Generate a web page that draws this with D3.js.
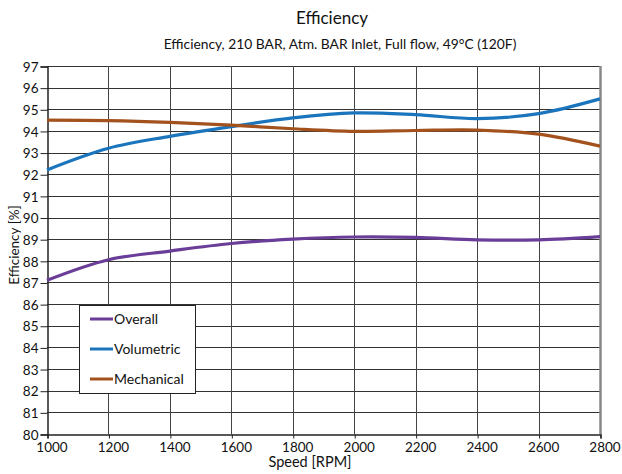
<!DOCTYPE html>
<html><head><meta charset="utf-8">
<script src="https://cdn.jsdelivr.net/npm/d3@7"></script>
<style>body{margin:0;background:#fff}svg{display:block}text{font-family:Lato,"Open Sans",sans-serif;fill:#111}</style>
</head><body>
<script>
const speeds = [1000,1200,1400,1600,1800,2000,2200,2400,2600,2800];
const overall = [87.1,88.05,88.45,88.8,89.0,89.1,89.08,88.97,88.97,89.12];
const volumetric = [92.2,93.2,93.75,94.2,94.6,94.83,94.75,94.57,94.8,95.48];
const mechanical = [94.5,94.48,94.4,94.27,94.1,93.98,94.02,94.04,93.85,93.3];
const seriesNames = ["Overall","Volumetric","Mechanical"];
const seriesColors = ["#6a3d98","#1b75bc","#a3521e"];
const xTicks = [1000,1200,1400,1600,1800,2000,2200,2400,2600,2800];
const yTicks = d3.range(80,98);

const W=622,H=474;
const svg=d3.select("body").append("svg").attr("width",W).attr("height",H);
const x=d3.scaleLinear().domain([1000,2800]).range([47,600]);
const y=d3.scaleLinear().domain([80,97]).range([434,66]);

// grid
svg.append("g").selectAll("line").data(yTicks.slice(1)).join("line")
 .attr("x1",47).attr("x2",600).attr("y1",d=>Math.round(y(d))+0.5).attr("y2",d=>Math.round(y(d))+0.5)
 .attr("stroke","#333").attr("stroke-width",1);
svg.append("g").selectAll("line").data(xTicks.slice(1,-1)).join("line")
 .attr("y1",66).attr("y2",434).attr("x1",d=>Math.round(x(d))+0.5).attr("x2",d=>Math.round(x(d))+0.5)
 .attr("stroke","#444").attr("stroke-width",1);
// right border
svg.append("line").attr("x1",600.5).attr("x2",600.5).attr("y1",66).attr("y2",434).attr("stroke","#888").attr("stroke-width",2.5);

// axes
const yAxis=d3.axisLeft(y).tickValues(yTicks).tickSize(7).tickPadding(2).tickFormat(d3.format("d"));
const gy=svg.append("g").attr("transform","translate(47.5,0.5)").call(yAxis);
gy.select(".domain").attr("stroke","#222").attr("stroke-width",1.5);
gy.selectAll("text").attr("font-size",13.5).attr("dy","0.35em");
const xAxis=d3.axisBottom(x).tickValues(xTicks).tickSize(4).tickFormat(d3.format("d"));
const gx=svg.append("g").attr("transform","translate(0.5,434.5)").call(xAxis);
gx.select(".domain").attr("stroke","#222").attr("stroke-width",1.5);
gx.selectAll("text").attr("font-size",13.5).attr("y",17).attr("dy",0).attr("x",4);
svg.selectAll(".tick line").attr("stroke","#222");
svg.selectAll(".tick text").style("font-family","Lato,sans-serif").attr("fill","#111");

// lines
const allSeries=[overall,volumetric,mechanical];
const line=d3.line().x((d,i)=>x(speeds[i])).y(d=>y(d)).curve(d3.curveCatmullRom.alpha(0.5));
allSeries.forEach((s,k)=>{
 svg.append("path").datum(s).attr("d",line).attr("fill","none").attr("stroke",seriesColors[k]).attr("stroke-width",3.2);
});

// titles
svg.append("text").attr("x",332).attr("y",24).attr("text-anchor","middle").attr("font-size",17).text("Efficiency");
svg.append("text").attr("x",340).attr("y",49).attr("text-anchor","middle").attr("font-size",13.8).text("Efficiency, 210 BAR, Atm. BAR Inlet, Full flow, 49°C (120F)");
svg.append("text").attr("x",310).attr("y",467).attr("text-anchor","middle").attr("font-size",14.5).text("Speed [RPM]");
svg.append("text").attr("transform","translate(19,245) rotate(-90)").attr("text-anchor","middle").attr("font-size",13.5).text("Efficiency [%]");

// legend
const lg=svg.append("g");
lg.append("rect").attr("x",79.5).attr("y",305.5).attr("width",116).attr("height",88).attr("fill","#fff").attr("stroke","#222").attr("stroke-width",1);
seriesNames.forEach((n,k)=>{
 const yy=319+k*30;
 lg.append("line").attr("x1",90).attr("x2",113).attr("y1",yy).attr("y2",yy).attr("stroke",seriesColors[k]).attr("stroke-width",3);
 lg.append("text").attr("x",114).attr("y",yy).attr("dy","0.35em").attr("font-size",14).text(n);
});
</script>
</body></html>
